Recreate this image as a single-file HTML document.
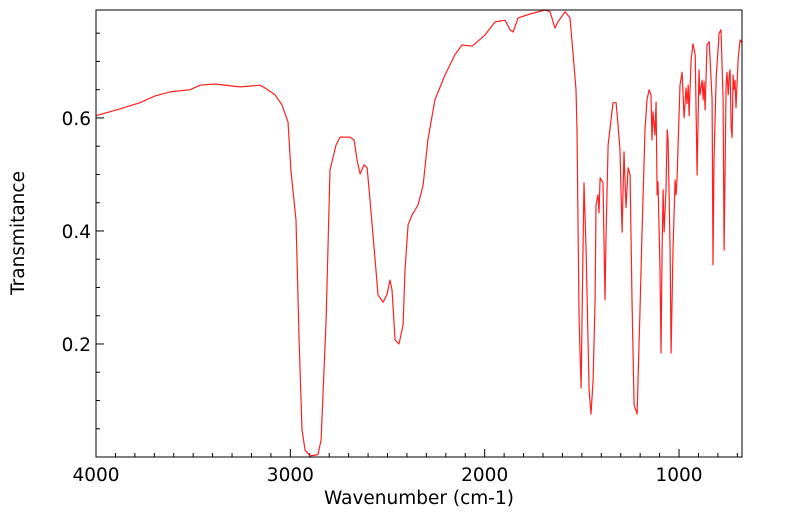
<!DOCTYPE html>
<html><head><meta charset="utf-8"><style>
body{margin:0;background:#fff;}
svg{display:block;font-family:"DejaVu Sans","Liberation Sans",sans-serif;}
</style></head><body>
<svg id="chart" width="799" height="516" viewBox="0 0 799 516" xmlns="http://www.w3.org/2000/svg"></svg>
<script>
const wavenumbers=[4000,3877,3774,3696,3619,3516,3465,3388,3259,3156,3130,3079,3043,3012,2997,2971,2955,2940,2924,2899,2858,2842,2816,2796,2765,2744,2693,2672,2657,2641,2621,2605,2590,2564,2549,2523,2503,2487,2477,2461,2441,2420,2410,2394,2374,2343,2317,2292,2256,2204,2153,2117,2065,1998,1947,1895,1870,1854,1828,1767,1689,1664,1638,1623,1586,1561,1545,1530,1525,1514,1504,1494,1489,1478,1463,1453,1442,1432,1427,1417,1412,1406,1391,1381,1376,1365,1340,1324,1314,1304,1293,1283,1273,1262,1252,1242,1231,1216,1201,1190,1175,1165,1154,1144,1139,1134,1124,1118,1113,1108,1098,1093,1087,1082,1077,1067,1061,1056,1046,1041,1031,1020,1015,1010,1005,995,984,974,964,959,953,948,938,928,917,907,897,892,881,876,871,866,856,845,830,825,820,809,794,784,773,768,758,753,747,742,737,732,727,722,717,712,707,696,686,676];
const transmittance=[0.604,0.616,0.627,0.639,0.646,0.650,0.658,0.660,0.655,0.658,0.653,0.641,0.623,0.593,0.508,0.419,0.207,0.048,0.012,0.002,0.004,0.030,0.242,0.508,0.552,0.566,0.566,0.561,0.526,0.501,0.517,0.512,0.455,0.349,0.287,0.274,0.287,0.313,0.296,0.207,0.200,0.234,0.331,0.411,0.428,0.446,0.481,0.561,0.632,0.676,0.712,0.729,0.727,0.747,0.770,0.773,0.756,0.752,0.777,0.784,0.791,0.788,0.759,0.770,0.788,0.777,0.712,0.650,0.579,0.242,0.122,0.366,0.485,0.366,0.119,0.076,0.136,0.278,0.446,0.464,0.432,0.494,0.485,0.278,0.389,0.552,0.627,0.627,0.588,0.543,0.398,0.540,0.441,0.512,0.499,0.278,0.092,0.076,0.260,0.402,0.579,0.632,0.650,0.641,0.561,0.611,0.570,0.628,0.464,0.487,0.331,0.184,0.366,0.473,0.398,0.473,0.579,0.561,0.366,0.184,0.366,0.490,0.464,0.494,0.552,0.658,0.681,0.600,0.653,0.625,0.658,0.604,0.703,0.731,0.712,0.499,0.685,0.641,0.667,0.632,0.664,0.614,0.729,0.735,0.632,0.340,0.526,0.671,0.750,0.756,0.632,0.366,0.658,0.681,0.641,0.676,0.685,0.584,0.565,0.676,0.650,0.667,0.618,0.703,0.738,0.733];
const xTickValues=[4000,3000,2000,1000];
const xTickLabels=["4000","3000","2000","1000"];
const yTickValues=[0.2,0.4,0.6];
const yTickLabels=["0.2","0.4","0.6"];

const L=96,R=742,T=10,B=457;
const xMax=4000,xMin=676,yMin=0,yMax=0.791;
const xs=w=>L+(xMax-w)/(xMax-xMin)*(R-L);
const ys=t=>B-(t-yMin)/(yMax-yMin)*(B-T);
const svg=document.getElementById('chart');
const NS='http://www.w3.org/2000/svg';
function mk(tag,attrs){const e=document.createElementNS(NS,tag);for(const k in attrs)e.setAttribute(k,attrs[k]);svg.appendChild(e);return e;}

for(let w=4000;w>=xMin;w-=100){
  const major=w%1000===0;
  const t=mk('line',{x1:xs(w),x2:xs(w),y1:B,y2:B-(major?8:4),stroke:'#000','stroke-width':1});
  
  
}
xTickValues.forEach((v,i)=>{
  const tx=mk('text',{x:xs(v),y:481,'text-anchor':'middle','font-size':18.5,fill:'#000'});
  tx.textContent=xTickLabels[i];
  
  
});
for(let k=1;k*0.05<yMax;k++){
  const v=k*0.05;const major=k%4===0;
  const t=mk('line',{x1:L,x2:L+(major?8:4),y1:ys(v),y2:ys(v),stroke:'#000','stroke-width':1});
  
  
}
yTickValues.forEach((v,i)=>{
  const tx=mk('text',{x:L-5,y:ys(v)+7,'text-anchor':'end','font-size':18.5,fill:'#000'});
  tx.textContent=yTickLabels[i];
  
  
});
const pts=wavenumbers.map((w,i)=>xs(w).toFixed(1)+','+ys(transmittance[i]).toFixed(1)).join(' ');
const line=mk('polyline',{points:pts,fill:'none',stroke:'#ff2020','stroke-width':1.2,'stroke-linejoin':'round'});


const frame=mk('rect',{x:L,y:T,width:R-L,height:B-T,fill:'none',stroke:'#000','stroke-width':1});


const xt=mk('text',{x:419,y:504,'text-anchor':'middle','font-size':18.5,fill:'#000'});
xt.textContent='Wavenumber (cm-1)';


const yt=mk('text',{x:0,y:0,'text-anchor':'middle','font-size':18.5,fill:'#000',transform:'translate(24,233) rotate(-90)'});
yt.textContent='Transmitance';


</script>
</body></html>
